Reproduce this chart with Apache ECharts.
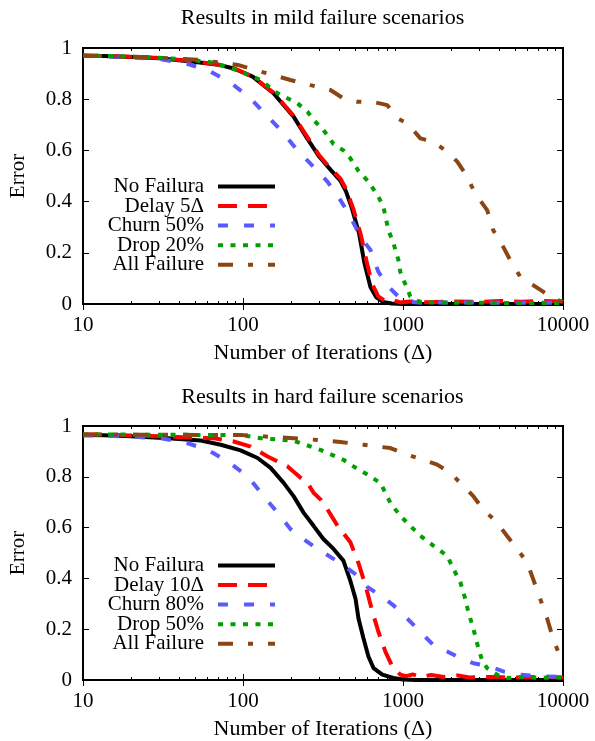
<!DOCTYPE html>
<html><head><meta charset="utf-8">
<script src="https://cdn.jsdelivr.net/npm/echarts@6/dist/echarts.min.js"></script>
<style>html,body{margin:0;padding:0;background:#fff}#c{width:595px;height:741px}</style>
</head><body><div id="c"></div>
<script>
// ---- data ----
const xMajorTicks = [10, 100, 1000, 10000];
const xMinorTicks = [20,30,40,50,60,70,80,90,200,300,400,500,600,700,800,900,2000,3000,4000,5000,6000,7000,8000,9000];
const yTicks = [0, 0.2, 0.4, 0.6, 0.8, 1];

const titles = ['Results in mild failure scenarios', 'Results in hard failure scenarios'];
const namesTop = ['No Failura', 'Delay 5Δ', 'Churn 50%', 'Drop 20%', 'All Failure'];
const namesBot = ['No Failura', 'Delay 10Δ', 'Churn 80%', 'Drop 50%', 'All Failure'];

const noFailTop = [[10,0.97],[13.5,0.969],[20,0.965],[30,0.96],[49,0.946],[70,0.935],[87.5,0.92],[115,0.888],[155,0.823],[207,0.732],[253,0.645],[300,0.575],[352,0.525],[406,0.482],[440,0.44],[476,0.38],[531,0.277],[574,0.16],[626,0.066],[679,0.027],[750,0.008],[850,0.002],[1000,0],[10000,0]];
const delayTop = [[10,0.97],[13.5,0.969],[20,0.966],[30,0.961],[49,0.948],[70,0.935],[90,0.918],[115,0.888],[155,0.826],[207,0.735],[255,0.648],[300,0.58],[352,0.53],[406,0.49],[440,0.45],[490,0.37],[545,0.27],[590,0.17],[640,0.08],[700,0.03],[760,0.015],[830,0.02],[900,0.012],[960,0.006],[1100,0.01],[1400,0.007],[2000,0.01],[3000,0.008],[4000,0.012],[5500,0.009],[7000,0.012],[10000,0.01]];
const churnTop = [[10,0.97],[13.5,0.968],[20,0.963],[30.6,0.956],[45.2,0.9375],[60.2,0.914],[83.8,0.864],[111.7,0.803],[142.5,0.732],[171.8,0.68],[219,0.6],[276,0.536],[337,0.478],[406,0.406],[469,0.341],[542,0.263],[626,0.211],[701,0.126],[810,0.068],[936,0.029],[1080,0.009],[1300,0.005],[2000,0.006],[4000,0.005],[10000,0.005]];
const dropTop = [[10,0.97],[13.5,0.969],[20,0.966],[30,0.962],[45,0.955],[65.6,0.943],[96.6,0.908],[128.8,0.875],[164.4,0.823],[219,0.784],[253,0.751],[276,0.719],[318,0.68],[368,0.625],[424,0.6],[469,0.569],[527,0.52],[608,0.478],[702,0.419],[754,0.38],[810,0.289],[871,0.238],[936,0.172],[962,0.126],[1005,0.094],[1063,0.0625],[1111,0.029],[1200,0.015],[1283,0.009],[1500,0.006],[2500,0.005],[5000,0.004],[10000,0.004]];
const allTop = [[10,0.97],[13.5,0.969],[20,0.966],[30,0.962],[54.5,0.953],[92.7,0.934],[128.8,0.908],[198,0.875],[264,0.855],[352,0.836],[424,0.803],[519,0.79],[644,0.79],[798,0.777],[922,0.725],[1064,0.706],[1283,0.647],[1545,0.634],[1890,0.595],[2183,0.556],[2449,0.51],[2827,0.432],[3357,0.367],[3659,0.289],[4223,0.224],[4673,0.172],[5400,0.107],[6505,0.074],[7506,0.048],[8662,0.022],[9860,0.009],[10000,0.005]];

const noFailBot = [[10,0.965],[13.5,0.964],[20,0.96],[33.9,0.952],[54.5,0.943],[72.6,0.926],[96.6,0.904],[123.3,0.874],[148.8,0.835],[179.5,0.776],[207,0.724],[239,0.659],[276,0.607],[318,0.555],[368,0.516],[424,0.47],[469,0.39],[505,0.32],[527,0.242],[566,0.164],[608,0.0925],[654,0.047],[743,0.021],[871,0.008],[1000,0.002],[1200,0],[10000,0]];
const delayBot = [[10,0.967],[13.5,0.966],[20,0.963],[30,0.96],[45,0.955],[65.6,0.952],[87.5,0.939],[111.7,0.919],[142.5,0.88],[190,0.841],[229,0.796],[253,0.776],[276,0.737],[305,0.711],[337,0.672],[390,0.607],[469,0.542],[527,0.46],[583,0.372],[644,0.268],[702,0.19],[776,0.112],[857,0.054],[962,0.021],[1050,0.015],[1150,0.022],[1300,0.012],[1500,0.02],[1800,0.012],[2200,0.018],[2600,0.01],[3500,0.012],[5000,0.01],[7000,0.012],[10000,0.01]];
const churnBot = [[10,0.963],[13.5,0.962],[20,0.958],[30.6,0.952],[45.2,0.932],[60.2,0.906],[80.3,0.861],[107,0.802],[134.5,0.724],[164.4,0.659],[198,0.594],[239,0.555],[292,0.516],[368,0.477],[450,0.44],[519,0.411],[598,0.366],[722,0.333],[871,0.294],[1064,0.242],[1283,0.19],[1545,0.138],[1890,0.112],[2280,0.086],[2750,0.066],[3510,0.053],[4223,0.034],[5400,0.021],[7200,0.015],[10000,0.012]];
const dropBot = [[10,0.967],[20,0.966],[50,0.965],[96.6,0.965],[128.8,0.952],[207,0.942],[305,0.906],[424,0.867],[490,0.841],[598,0.809],[722,0.776],[833,0.698],[962,0.646],[1111,0.607],[1283,0.568],[1545,0.529],[1890,0.489],[2064,0.4375],[2280,0.386],[2449,0.32],[2560,0.268],[2750,0.203],[2960,0.125],[3140,0.073],[3357,0.047],[3870,0.021],[4500,0.008],[5500,0.012],[7000,0.008],[10000,0.01]];
const allBot = [[10,0.967],[20,0.966],[50,0.965],[96.6,0.965],[142.5,0.958],[207,0.952],[292,0.945],[406,0.937],[566,0.926],[833,0.913],[1064,0.887],[1335,0.867],[1637,0.848],[1980,0.815],[2280,0.776],[2750,0.724],[3170,0.672],[3870,0.62],[4460,0.568],[5160,0.516],[5960,0.464],[6500,0.398],[7200,0.32],[7960,0.242],[8660,0.164],[9320,0.112],[10000,0.079]];

// ---- styles ----
const colors = ['#000000', '#ff0000', '#5a5aff', '#00a000', '#8b4513'];
const dashes = ['solid', [19, 11], [10, 16], [5, 7.5], [15, 15, 5, 15]];
const FONT = 'Liberation Serif';
const FS = 21;
const FS_TITLE = 22;

const grids = [
  { left: 82, top: 48, width: 481, height: 256 },
  { left: 82, top: 426, width: 481, height: 256 }
];

const chart = echarts.init(document.getElementById('c'), null, { renderer: 'canvas' });

const xAxes = [], yAxes = [], series = [], legends = [], titleOpts = [];
const dataSets = [[noFailTop, delayTop, churnTop, dropTop, allTop], [noFailBot, delayBot, churnBot, dropBot, allBot]];
const nameSets = [namesTop, namesBot];
const legendTops = [176, 555];
const titleTops = [7, 386];

grids.forEach((g, gi) => {
  const baseX = xAxes.length;
  xAxes.push({ type: 'log', gridIndex: gi, min: xMajorTicks[0], max: xMajorTicks[xMajorTicks.length - 1], logBase: 10, position: 'bottom',
    axisLine: { show: false }, splitLine: { show: false },
    axisTick: { inside: true, length: 6, lineStyle: { color: '#000', width: 1 } },
    axisLabel: { margin: 11, fontFamily: FONT, fontSize: FS, color: '#000', formatter: v => String(v) },
    name: 'Number of Iterations (Δ)', nameLocation: 'middle', nameGap: 38,
    nameTextStyle: { fontFamily: FONT, fontSize: FS_TITLE, color: '#000' } });
  xAxes.push({ type: 'log', gridIndex: gi, min: xMajorTicks[0], max: xMajorTicks[xMajorTicks.length - 1], logBase: 10, position: 'top',
    axisLine: { show: false }, splitLine: { show: false }, axisLabel: { show: false },
    axisTick: { inside: true, length: 6, lineStyle: { color: '#000', width: 1 } } });
  ['bottom', 'top'].forEach(pos => {
    xAxes.push({ type: 'value', gridIndex: gi, min: 1, max: 4, position: pos,
      axisLine: { show: false }, splitLine: { show: false }, axisLabel: { show: false },
      axisTick: { inside: true, length: 3, customValues: xMinorTicks.map(Math.log10), lineStyle: { color: '#000', width: 1 } } });
  });
  const baseY = yAxes.length;
  yAxes.push({ type: 'value', gridIndex: gi, min: yTicks[0], max: yTicks[yTicks.length - 1], interval: 0.2, position: 'left',
    axisLine: { show: false }, splitLine: { show: false },
    axisTick: { inside: true, length: 6, lineStyle: { color: '#000', width: 1 } },
    axisLabel: { margin: 11, fontFamily: FONT, fontSize: FS, color: '#000' },
    name: 'Error', nameLocation: 'middle', nameGap: 54,
    nameTextStyle: { fontFamily: FONT, fontSize: FS, color: '#000' } });
  yAxes.push({ type: 'value', gridIndex: gi, min: yTicks[0], max: yTicks[yTicks.length - 1], interval: 0.2, position: 'right',
    axisLine: { show: false }, splitLine: { show: false }, axisLabel: { show: false },
    axisTick: { inside: true, length: 6, lineStyle: { color: '#000', width: 1 } } });

  dataSets[gi].forEach((d, si) => {
    series.push({ type: 'line', name: nameSets[gi][si], xAxisIndex: baseX, yAxisIndex: baseY,
      data: d, symbol: 'none', showSymbol: false, animation: false,
      lineStyle: { color: colors[si], width: 4, type: dashes[si] },
      itemStyle: { color: colors[si] } });
  });

  legends.push({ orient: 'vertical', align: 'right', right: 318, top: legendTops[gi], padding: 0,
    itemWidth: 57, itemHeight: 10, itemGap: -1.45, selectedMode: false,
    itemStyle: { opacity: 0 },
    lineStyle: { width: 4 },
    textStyle: { fontFamily: FONT, fontSize: FS, color: '#000', lineHeight: 19.25, padding: [0, 9, 0, 0] },
    data: nameSets[gi].map((n, si) => ({ name: n, lineStyle: { width: 4, type: dashes[si], color: colors[si] } })) });

  titleOpts.push({ text: titles[gi], left: 322.5, textAlign: 'center', top: titleTops[gi], padding: 0,
    textStyle: { fontFamily: FONT, fontSize: FS_TITLE, fontWeight: 'normal', color: '#000' } });
});

chart.setOption({
  animation: false,
  backgroundColor: '#fff',
  title: titleOpts,
  grid: grids.map(g => Object.assign({ show: true, borderColor: '#000', borderWidth: 2, backgroundColor: 'transparent' }, g)),
  xAxis: xAxes,
  yAxis: yAxes,
  legend: legends,
  series: series
});
</script></body></html>
